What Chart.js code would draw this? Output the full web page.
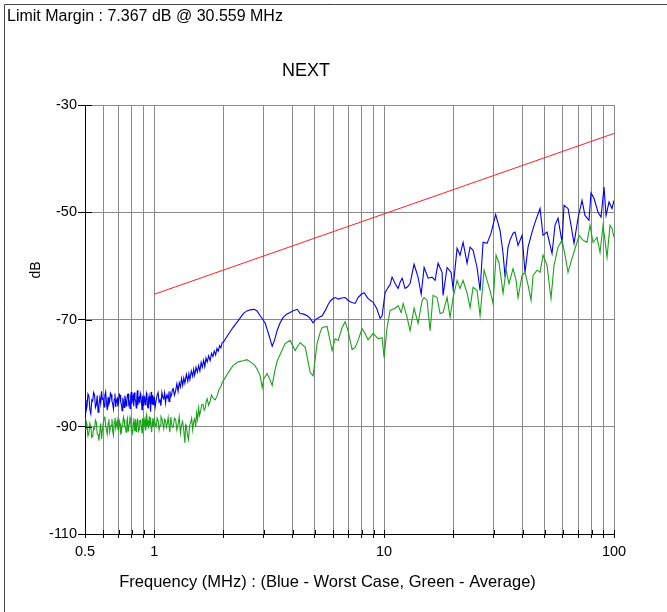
<!DOCTYPE html>
<html lang="en">
<head>
  <meta charset="UTF-8">
  <title>NEXT</title>
  <script src="https://cdn.jsdelivr.net/npm/chart.js"></script>
  <style>
    body { margin: 0; background: #fff; }
    canvas { display: block; }
  </style>
</head>
<body>
  <canvas id="chart" width="667" height="612"></canvas>

  <script>
    // tick values on the axes
    const xTickValues = [0.5, 0.6, 0.7, 0.8, 0.9, 1, 2, 3, 4, 5, 6, 7, 8, 9, 10,
                         20, 30, 40, 50, 60, 70, 80, 90, 100];
    const xLabelValues = [0.5, 1, 10, 100];
    const yTickValues = [-110, -90, -70, -50, -30];

    // limit line (dB)
    const limitFreq = [1, 100];
    const limitDb = [-65.3, -35.3];

    // worst case (blue)
    const worstFreq = [
      0.5, 0.505, 0.51, 0.515, 0.52, 0.525, 0.53, 0.535, 0.54, 0.545,
      0.55, 0.555, 0.56, 0.565, 0.57, 0.575, 0.58, 0.585, 0.59, 0.595,
      0.6, 0.605, 0.61, 0.615, 0.62, 0.625, 0.63, 0.635, 0.64, 0.645,
      0.65, 0.655, 0.66, 0.665, 0.67, 0.675, 0.68, 0.685, 0.69, 0.695,
      0.7, 0.705, 0.71, 0.715, 0.72, 0.725, 0.73, 0.735, 0.74, 0.745,
      0.75, 0.755, 0.76, 0.765, 0.77, 0.775, 0.78, 0.785, 0.79, 0.795,
      0.8, 0.805, 0.81, 0.815, 0.82, 0.825, 0.83, 0.835, 0.84, 0.845,
      0.85, 0.855, 0.86, 0.865, 0.87, 0.875, 0.88, 0.885, 0.89, 0.895,
      0.9, 0.905, 0.91, 0.915, 0.92, 0.925, 0.93, 0.935, 0.94, 0.945,
      0.95, 0.955, 0.96, 0.965, 0.97, 0.975, 0.98, 0.985, 0.99, 0.995,
      1.0, 1.01, 1.02, 1.03, 1.04, 1.05, 1.06, 1.07, 1.08, 1.09, 1.1,
      1.11, 1.12, 1.13, 1.14, 1.15, 1.16, 1.17, 1.18, 1.19, 1.2,
      1.21, 1.225, 1.24, 1.255, 1.27, 1.285, 1.3, 1.315, 1.33, 1.345, 1.36, 1.38, 1.4, 1.415, 1.43, 1.45, 1.47, 1.485, 1.5, 1.52,
      1.54, 1.56, 1.58, 1.6, 1.62, 1.64, 1.66, 1.68, 1.7, 1.725, 1.75, 1.775, 1.8, 1.825, 1.85, 1.875, 1.9, 1.925, 1.95, 1.975, 2.0,
      2.1, 2.2, 2.32, 2.44, 2.53, 2.62, 2.72, 2.8, 2.89, 2.97, 3.04, 3.15, 3.26, 3.34, 3.43, 3.53, 3.64, 3.77, 3.9, 4.05, 4.19,
      4.31, 4.47, 4.63, 4.77, 4.91, 5.01, 5.12, 5.27, 5.38, 5.55, 5.71, 5.85, 6.0, 6.15, 6.31, 6.55, 6.77, 6.97, 7.2, 7.48,
      7.71, 7.95, 8.19, 8.52, 8.96, 9.3, 9.61, 9.8, 10.1, 10.41, 10.62, 10.83, 11.16, 11.51, 11.75, 11.98, 12.34, 12.65, 12.97, 13.5,
      14.05, 14.5, 14.93, 15.54, 16.17, 16.66, 17.17, 17.87, 18.05, 18.79, 19.56, 19.95, 20.77, 21.4, 22.06, 22.96, 23.66, 24.38, 25.37, 26.15,
      26.94, 28.04, 29.19, 30.56, 31.94, 32.92, 33.59, 34.6, 35.3, 36.38, 37.12, 38.25, 39.81, 41.02, 42.28, 44.01, 45.35, 47.68, 49.13, 51.13,
      53.76, 55.4, 57.09, 59.42, 60.62, 63.1, 65.02, 67.0, 69.75, 72.6, 74.78, 77.84, 79.43, 81.85, 85.21, 87.82, 90.5, 92.34, 95.13, 98.02, 100];
    const worstDb = [
      -85.0, -87.1, -86.2, -83.9, -84.3, -86.8, -87.6, -85.0, -85.2, -83.6,
      -84.0, -86.4, -85.9, -84.2, -87.3, -86.0, -84.6, -85.7, -83.4, -84.9,
      -84.8, -86.3, -84.2, -83.5, -85.6, -86.9, -84.5, -85.8, -85.3, -83.7,
      -84.0, -85.2, -85.8, -86.7, -84.9, -83.8, -86.3, -85.1, -84.7, -86.2,
      -85.5, -83.9, -84.1, -85.4, -85.9, -87.0, -84.6, -85.3, -86.4, -84.2,
      -84.9, -86.1, -85.2, -84.0, -83.9, -85.8, -85.4, -86.6, -84.3, -83.5,
      -85.7, -84.6, -84.2, -86.2, -83.6, -84.8, -85.1, -86.5, -84.4, -83.2,
      -86.0, -84.7, -84.5, -85.6, -83.8, -84.3, -85.3, -86.8, -84.2, -85.0,
      -86.1, -84.4, -84.7, -85.9, -85.5, -83.7, -84.0, -86.2, -86.5, -84.8,
      -84.3, -85.7, -85.1, -87.2, -83.5, -84.6, -85.8, -84.1, -84.9, -86.0,
      -84.4, -86.3, -85.0, -84.1, -83.6, -85.4, -85.0, -86.1, -83.6, -84.5, -84.8,
      -83.7, -85.6, -84.2, -84.6, -83.9, -85.3, -83.4, -84.4, -84.0, -83.1,
      -82.9, -84.1, -83.2, -82.0, -83.4, -81.8, -82.6, -81.0, -82.3, -80.9, -81.9, -80.2, -81.5, -80.1, -81.2, -79.6, -80.6, -79.3, -80.4, -78.9,
      -79.8, -78.6, -79.6, -78.0, -78.9, -77.6, -78.8, -77.2, -77.9, -76.8, -77.7, -76.3, -76.9, -75.9, -76.6, -75.4, -75.9, -74.9, -75.3, -74.3, -74.2,
      -72.8, -71.5, -70.2, -68.9, -68.4, -68.2, -68.1, -68.4, -69.3, -70.0, -70.7, -72.8, -75.0, -73.8, -72.0, -70.6, -69.6, -69.0, -68.7, -68.3, -68.1,
      -68.9, -69.0, -69.3, -69.8, -70.6, -70.1, -69.8, -69.5, -69.3, -68.3, -67.2, -66.5, -66.1, -65.9, -66.2, -66.0, -65.9, -66.4, -66.8, -67.0,
      -65.9, -65.3, -65.0, -66.1, -66.8, -68.0, -69.8, -69.3, -65.0, -64.0, -63.5, -62.1, -63.3, -64.2, -63.0, -62.3, -64.2, -63.9, -63.3, -59.7,
      -62.1, -65.3, -60.3, -62.3, -62.1, -62.7, -59.5, -61.2, -65.5, -60.3, -61.2, -64.2, -56.7, -58.0, -55.6, -59.5, -56.5, -57.1, -60.3, -64.6,
      -55.6, -55.8, -53.9, -50.39, -53.4, -57.7, -62.1, -56.5, -55.2, -53.9, -53.7, -56.2, -54.3, -61.2, -56.5, -53.7, -51.9, -49.3, -54.3, -53.7,
      -57.7, -52.4, -51.1, -55.6, -48.7, -49.3, -52.4, -55.8, -51.1, -47.8, -50.6, -51.5, -46.4, -47.4, -50.0, -50.9, -45.3, -50.6, -48.1, -49.3, -47.8];

    // average (green)
    const avgFreq = [
      0.5, 0.505, 0.51, 0.515, 0.52, 0.525, 0.53, 0.535, 0.54, 0.545,
      0.55, 0.555, 0.56, 0.565, 0.57, 0.575, 0.58, 0.585, 0.59, 0.595,
      0.6, 0.605, 0.61, 0.615, 0.62, 0.625, 0.63, 0.635, 0.64, 0.645,
      0.65, 0.655, 0.66, 0.665, 0.67, 0.675, 0.68, 0.685, 0.69, 0.695,
      0.7, 0.705, 0.71, 0.715, 0.72, 0.725, 0.73, 0.735, 0.74, 0.745,
      0.75, 0.755, 0.76, 0.765, 0.77, 0.775, 0.78, 0.785, 0.79, 0.795,
      0.8, 0.805, 0.81, 0.815, 0.82, 0.825, 0.83, 0.835, 0.84, 0.845,
      0.85, 0.855, 0.86, 0.865, 0.87, 0.875, 0.88, 0.885, 0.89, 0.895,
      0.9, 0.905, 0.91, 0.915, 0.92, 0.925, 0.93, 0.935, 0.94, 0.945,
      0.95, 0.955, 0.96, 0.965, 0.97, 0.975, 0.98, 0.985, 0.99, 0.995,
      1.0, 1.01, 1.02, 1.03, 1.04, 1.05, 1.06, 1.07, 1.08, 1.09, 1.1,
      1.11, 1.12, 1.13, 1.14, 1.15, 1.16, 1.17, 1.18, 1.19, 1.2,
      1.21, 1.225, 1.24, 1.255, 1.27, 1.285, 1.3, 1.315, 1.33, 1.345, 1.36, 1.37, 1.38, 1.395, 1.41, 1.425, 1.44, 1.455, 1.47, 1.485,
      1.5, 1.515, 1.53, 1.545, 1.56, 1.575, 1.59, 1.61, 1.63, 1.65, 1.67, 1.685, 1.7, 1.725, 1.75, 1.775, 1.8, 1.84, 1.88, 1.915, 1.95, 1.975, 2.0,
      2.1, 2.2, 2.32, 2.44, 2.53, 2.62, 2.72, 2.8, 2.89, 2.95, 3.0, 3.1, 3.2, 3.26, 3.35, 3.43, 3.71, 3.9, 4.1, 4.31,
      4.54, 4.77, 4.91, 5.11, 5.27, 5.38, 5.65, 5.94, 6.12, 6.31, 6.57, 6.77, 6.97, 7.26, 7.48, 7.71, 8.02, 8.27, 8.52, 8.96,
      9.42, 9.8, 10.0, 10.3, 10.62, 11.16, 11.51, 11.86, 12.1, 12.59, 12.97, 13.5, 14.05, 14.63, 14.93, 15.38, 15.85, 16.33, 17.0, 17.52,
      18.05, 18.79, 19.36, 19.95, 20.77, 21.4, 22.06, 22.96, 23.66, 24.38, 25.37, 26.15, 27.22, 28.04, 28.9, 29.78, 30.69, 31.62, 32.92, 33.92,
      34.95, 36.38, 37.5, 38.25, 39.81, 41.02, 42.28, 43.57, 44.45, 46.26, 47.68, 49.13, 51.13, 53.22, 54.84, 57.09, 59.42, 61.24, 63.1, 65.68,
      68.37, 70.45, 73.32, 76.3, 78.63, 81.03, 84.36, 86.95, 89.6, 93.26, 96.07, 98.02, 100];
    const avgDb = [
      -90.5, -88.9, -89.6, -91.7, -91.2, -89.4, -90.1, -92.0, -91.8, -90.2,
      -90.4, -88.8, -89.2, -91.3, -91.5, -92.6, -90.8, -89.4, -92.3, -90.6,
      -89.5, -88.4, -88.1, -89.9, -90.6, -91.4, -89.3, -88.6, -91.0, -90.1,
      -89.7, -88.5, -90.9, -91.6, -89.0, -88.3, -90.3, -89.6, -88.8, -90.5,
      -90.6, -88.9, -89.4, -91.3, -91.1, -89.8, -89.6, -88.2, -88.7, -90.1,
      -90.2, -91.0, -89.1, -88.5, -90.8, -89.9, -89.5, -88.3, -88.9, -90.4,
      -90.4, -91.2, -89.2, -88.4, -90.7, -89.5, -88.6, -90.9, -89.8, -88.7,
      -89.0, -90.8, -90.5, -88.9, -88.8, -89.3, -89.9, -91.1, -88.4, -89.2,
      -90.1, -88.7, -89.3, -90.6, -88.5, -87.9, -90.0, -89.4, -88.9, -90.3,
      -89.6, -88.2, -88.3, -89.7, -90.2, -91.0, -89.1, -88.4, -90.0, -89.2,
      -88.6, -89.5, -90.0, -88.4, -88.8, -90.6, -89.7, -88.1, -88.5, -89.4, -90.3,
      -88.6, -88.9, -90.1, -89.4, -88.3, -89.8, -91.0, -88.2, -89.5, -90.1,
      -90.1, -88.4, -88.7, -90.6, -89.5, -88.1, -91.2, -89.7, -89.0, -90.8, -93.0, -89.6, -89.8, -91.5, -92.4, -89.9, -89.2, -88.4, -90.6, -89.0,
      -88.5, -90.0, -87.4, -88.6, -86.5, -87.9, -87.2, -85.9, -85.8, -86.9, -86.4, -85.2, -84.8, -86.0, -85.3, -84.1, -84.6, -85.0, -84.2, -83.0, -82.5, -81.8, -81.4,
      -79.9, -78.6, -77.9, -77.7, -77.5, -77.9, -78.4, -79.2, -80.5, -82.7, -81.0, -80.1, -81.4, -82.3, -79.5, -77.7, -74.5, -73.9, -75.8, -74.3,
      -75.2, -79.9, -80.5, -74.5, -72.4, -71.5, -71.3, -75.8, -73.6, -73.9, -71.5, -70.4, -72.1, -75.6, -75.2, -73.9, -71.7, -72.6, -73.8, -72.6,
      -73.6, -73.4, -77.1, -71.5, -68.3, -67.9, -67.4, -68.7, -67.0, -69.6, -72.1, -67.9, -70.7, -66.5, -65.9, -66.4, -72.1, -65.5, -65.9, -68.9,
      -68.7, -65.9, -69.6, -65.9, -62.7, -64.2, -62.7, -65.1, -67.8, -64.0, -64.6, -69.3, -60.8, -62.7, -64.6, -67.0, -58.0, -59.5, -65.1, -60.8,
      -63.3, -60.5, -62.7, -65.9, -61.8, -61.2, -63.6, -66.4, -61.8, -60.8, -61.2, -58.0, -59.9, -66.1, -59.9, -56.5, -55.2, -58.0, -61.2, -58.6,
      -56.2, -54.3, -55.2, -55.6, -52.4, -55.6, -54.7, -57.5, -52.4, -58.4, -52.4, -53.0, -54.7];

    const toPoints = (xs, ys) => xs.map((x, i) => ({ x: x, y: ys[i] }));

    const FONT = "'Liberation Sans', Arial, sans-serif";

    // frame, titles and inner tick marks
    const decor = {
      id: 'decor',
      beforeDraw(chart) {
        const c = chart.ctx;
        c.save();
        c.fillStyle = '#fff';
        c.fillRect(0, 0, chart.width, chart.height);
        c.restore();
      },
      afterDraw(chart) {
        const c = chart.ctx;
        const a = chart.chartArea;
        const xs = chart.scales.x;
        const ys = chart.scales.y;
        c.save();
        // outer frame (top and left)
        c.strokeStyle = '#444';
        c.lineWidth = 1;
        c.beginPath();
        c.moveTo(4.5, 612);
        c.lineTo(4.5, 4.5);
        c.lineTo(667, 4.5);
        c.stroke();

        // tick marks inside the plot
        c.strokeStyle = '#000';
        c.beginPath();
        yTickValues.forEach(v => {
          const y = Math.round(ys.getPixelForValue(v)) + 0.5;
          c.moveTo(a.left, y);
          c.lineTo(a.left + 7, y);
        });
        xTickValues.forEach(v => {
          const x = Math.round(xs.getPixelForValue(v)) + 0.5;
          c.moveTo(x, a.bottom);
          c.lineTo(x, a.bottom - 4);
        });
        c.stroke();

        c.fillStyle = '#000';
        c.textBaseline = 'middle';
        c.font = '16px ' + FONT;
        c.textAlign = 'left';
        c.fillText('Limit Margin : 7.367 dB @ 30.559 MHz', 7, 17);

        c.font = '18px ' + FONT;
        c.textAlign = 'center';
        c.fillText('NEXT', 306, 71);

        c.font = '16.5px ' + FONT;
        c.fillText('Frequency (MHz) : (Blue - Worst Case, Green - Average)', 327.5, 582);

        c.font = '14px ' + FONT;
        c.translate(36, 270);
        c.rotate(-Math.PI / 2);
        c.fillText('dB', 0, 0);
        c.restore();
      }
    };

    const ctx = document.getElementById('chart').getContext('2d');
    const chart = new Chart(ctx, {
      type: 'line',
      data: {
        datasets: [
          {
            label: 'Limit',
            data: toPoints(limitFreq, limitDb),
            borderColor: '#ff2020',
            borderWidth: 1
          },
          {
            label: 'Average',
            data: toPoints(avgFreq, avgDb),
            borderColor: '#1aa31a',
            borderWidth: 1.1
          },
          {
            label: 'Worst Case',
            data: toPoints(worstFreq, worstDb),
            borderColor: '#0000ee',
            borderWidth: 1.1
          }
        ]
      },
      options: {
        responsive: false,
        animation: false,
        events: [],
        layout: { padding: { top: 105, right: 53, left: 0, bottom: 0 } },
        elements: { point: { radius: 0 }, line: { tension: 0 } },
        plugins: { legend: { display: false }, tooltip: { enabled: false } },
        scales: {
          x: {
            type: 'logarithmic',
            min: 0.5,
            max: 100,
            afterBuildTicks: scale => { scale.ticks = xTickValues.map(v => ({ value: v })); },
            afterFit: scale => { scale.height = 78; },
            ticks: {
              autoSkip: false,
              maxRotation: 0,
              padding: 5,
              color: '#000',
              font: { family: FONT, size: 14.5 },
              callback: value => xLabelValues.includes(value) ? String(value) : ''
            },
            grid: { color: '#8a8a8a', tickColor: '#000', tickLength: 4 },
            border: { color: '#000' }
          },
          y: {
            min: -110,
            max: -30,
            afterBuildTicks: scale => { scale.ticks = yTickValues.map(v => ({ value: v })); },
            afterFit: scale => { scale.width = 85; },
            ticks: {
              padding: 1,
              color: '#000',
              font: { family: FONT, size: 14.5 }
            },
            grid: { color: '#8a8a8a', tickColor: '#000', tickLength: 7 },
            border: { color: '#000' }
          }
        }
      },
      plugins: [decor]
    });
  </script>
</body>
</html>
